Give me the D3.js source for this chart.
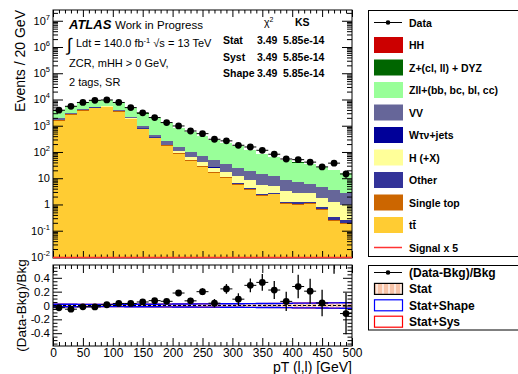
<!DOCTYPE html>
<html>
<head>
<meta charset="utf-8">
<script src="https://cdn.jsdelivr.net/npm/d3@7"></script>
<style>
  body { margin: 0; background: #fff; }
  svg { font-family: "Liberation Sans", Arial, Helvetica, sans-serif; }
</style>
</head>
<body>
<svg id="svg" width="518" height="374"></svg>
<script>
// bin low edges (GeV), 20 GeV bins
const binLow = [0, 20, 40, 60, 80, 100, 120, 140, 160, 180, 200, 220, 240, 260, 280, 300, 320, 340, 360, 380, 400, 420, 440, 460, 480];
const binWidth = 20;

// background components (events / bin)
const ttbar = [1500, 2600, 3620, 4580, 4980, 3300, 1730, 720, 328, 166, 86, 44, 26.3, 15.5, 10.3, 5.7, 3.7, 2.03, 2.4, 1.04, 0.99, 1.04, 0.64, 0.24, 0.175];
const stop = [120, 200, 280, 350, 390, 260, 140, 60, 27, 14, 7, 4, 2.2, 1.3, 0.8, 0.5, 0.3, 0.17, 0.2, 0.09, 0.08, 0.09, 0.05, 0.02, 0.015];
const other = [10, 14, 18, 22, 24, 18, 11, 6, 3.5, 2.4, 1.6, 1.2, 0.9, 0.6, 0.45, 0.35, 0.28, 0.22, 0.18, 0.14, 0.12, 0.1, 0.08, 0.07, 0.06];
const higgs = [8, 12, 16, 20, 22, 18, 12, 8, 6, 5, 14, 14, 13, 8.2, 6.2, 5.6, 4.3, 3.1, 2.3, 2.0, 1.6, 1.5, 0.97, 0.87, 0.73];
const wtaunu = [1, 1.5, 2, 2, 2, 1.5, 1, 0.6, 0.4, 0.3, 0.2, 0.15, 0.1, 0.08, 0.06, 0.05, 0.04, 0.03, 0.03, 0.02, 0.02, 0.02, 0.01, 0.01, 0.01];
const vv = [300, 300, 350, 400, 420, 400, 280, 175, 90, 70, 48, 38, 27, 23, 16.7, 13.2, 10, 8.8, 6.9, 5.2, 4.5, 3.3, 2.9, 2.3, 1.65];
const zll = [2031, 2595, 3446, 3974, 3520, 3370, 2515, 1936, 1432, 968, 661, 480, 341, 242, 176, 137, 99.6, 71.3, 54, 41.7, 32.1, 27.4, 21, 17.6, 13.5];
const zcl = [60, 87, 118, 142, 142, 112, 71, 44, 29, 19, 12.5, 9, 6.3, 4.4, 3.2, 2.5, 1.8, 1.3, 1.0, 0.77, 0.6, 0.5, 0.39, 0.32, 0.25];
const hh = [0.02, 0.02, 0.02, 0.02, 0.02, 0.02, 0.02, 0.02, 0.02, 0.02, 0.02, 0.02, 0.02, 0.02, 0.02, 0.02, 0.02, 0.02, 0.02, 0.02, 0.02, 0.02, 0.02, 0.02, 0.02];
const signal = [0.004, 0.004, 0.004, 0.004, 0.004, 0.004, 0.004, 0.004, 0.004, 0.004, 0.004, 0.004, 0.004, 0.004, 0.004, 0.004, 0.004, 0.004, 0.004, 0.004, 0.004, 0.004, 0.004, 0.004, 0.004];

// data
const data = [3900, 5500, 7700, 9300, 9600, 7700, 4900, 3100, 2050, 1320, 980, 630, 500, 305, 265, 180, 155, 116, 82, 54, 51, 41, 27, 37.5, 14.5];
// ratio error bars read from the lower pad
const ratioErr = [0.016, 0.014, 0.012, 0.011, 0.011, 0.012, 0.015, 0.019, 0.024, 0.03, 0.036, 0.043, 0.05, 0.06, 0.07, 0.085, 0.1, 0.12, 0.13, 0.14, 0.17, 0.18, 0.19, 0.29, 0.3];

// relative uncertainty bands
const statUnc = [0.012, 0.011, 0.010, 0.010, 0.010, 0.010, 0.011, 0.012, 0.013, 0.014, 0.015, 0.016, 0.017, 0.018, 0.019, 0.020, 0.021, 0.022, 0.023, 0.024, 0.026, 0.027, 0.028, 0.030, 0.032];
const shapeUnc = [0.018, 0.017, 0.016, 0.016, 0.016, 0.016, 0.017, 0.018, 0.019, 0.020, 0.021, 0.022, 0.023, 0.024, 0.025, 0.026, 0.027, 0.028, 0.029, 0.030, 0.034, 0.035, 0.036, 0.038, 0.040];
const sysUnc = [0.020, 0.019, 0.018, 0.018, 0.018, 0.018, 0.019, 0.020, 0.021, 0.022, 0.023, 0.024, 0.025, 0.026, 0.027, 0.028, 0.029, 0.030, 0.031, 0.032, 0.036, 0.037, 0.038, 0.040, 0.042];

const xTicks = [0, 50, 100, 150, 200, 250, 300, 350, 400, 450, 500];
const yExp = [-2, -1, 0, 1, 2, 3, 4, 5, 6, 7];
const rTicks = [-0.4, -0.2, 0, 0.2, 0.4];
const rTickLabels = ["0.4", "0.2", "0", "0.2", "0.4"];

const keys = ["ttbar", "stop", "other", "higgs", "wtaunu", "vv", "zll", "zcl", "hh"];
const series = { ttbar, stop, other, higgs, wtaunu, vv, zll, zcl, hh };
const colors = {
  ttbar: "#ffcc33", stop: "#cc6600", other: "#333399", higgs: "#ffff99",
  wtaunu: "#000099", vv: "#666699", zll: "#99ff99", zcl: "#006600", hh: "#cc0000"
};

const svg = d3.select("#svg");

// pads
const L = 53, R = 352;
const mainTop = 10, mainBot = 258;
const ratTop = 265, ratBot = 346;

const x = d3.scaleLinear().domain([0, 500]).range([L, R]);
const y = d3.scaleLog().domain([Math.pow(10, -2.04), Math.pow(10, 7.41)]).range([mainBot, mainTop]);
const yr = d3.scaleLinear().domain([-0.585, 0.585]).range([ratBot, ratTop]);
const yc = v => (v <= y.domain()[0] ? mainBot : Math.max(mainTop, y(v)));

// stack
const rows = binLow.map((b, i) => {
  const r = { bin: b };
  keys.forEach(k => r[k] = series[k][i]);
  return r;
});
const stacked = d3.stack().keys(keys)(rows);
const bkg = rows.map((r, i) => stacked[stacked.length - 1][i][1]);

const gStack = svg.append("g").attr("shape-rendering", "crispEdges");
stacked.forEach(layer => {
  gStack.append("g")
    .attr("fill", colors[layer.key])
    .selectAll("rect")
    .data(layer)
    .join("rect")
    .attr("x", d => x(d.data.bin))
    .attr("width", d => x(d.data.bin + binWidth) - x(d.data.bin))
    .attr("y", d => yc(d[1]))
    .attr("height", d => Math.max(0, yc(d[0]) - yc(d[1])));
});

// ---- axes helpers
function strip(g) { g.select(".domain").remove(); g.selectAll("line").attr("stroke", "#000"); }

// main pad ticks
const minorLog = [];
for (let e = -3; e <= 7; e++) {
  for (let m = 2; m <= 9; m++) {
    const v = m * Math.pow(10, e);
    if (v > y.domain()[0] && v < y.domain()[1]) minorLog.push(v);
  }
}
const majorLog = yExp.map(e => Math.pow(10, e));

svg.append("g").attr("transform", `translate(${L},0)`)
  .call(d3.axisLeft(y).tickValues(majorLog).tickSize(-10).tickFormat("")).call(strip);
svg.append("g").attr("transform", `translate(${L},0)`)
  .call(d3.axisLeft(y).tickValues(minorLog).tickSize(-5).tickFormat("")).call(strip);
svg.append("g").attr("transform", `translate(${R},0)`)
  .call(d3.axisRight(y).tickValues(majorLog).tickSize(-10).tickFormat("")).call(strip);
svg.append("g").attr("transform", `translate(${R},0)`)
  .call(d3.axisRight(y).tickValues(minorLog).tickSize(-5).tickFormat("")).call(strip);

// y labels with superscripts
const ylab = svg.append("g").attr("font-size", 11).attr("text-anchor", "end");
yExp.forEach(e => {
  const t = ylab.append("text").attr("x", L - 3).attr("y", y(Math.pow(10, e)) + 4);
  if (e === 0) t.text("1");
  else if (e === 1) t.text("10");
  else {
    t.append("tspan").text("10");
    t.append("tspan").attr("font-size", 7.5).attr("dy", -5).text(e);
  }
});

const xMinor = d3.range(0, 501, 10).filter(v => v % 50 !== 0);
svg.append("g").attr("transform", `translate(0,${mainBot})`)
  .call(d3.axisBottom(x).tickValues(xTicks).tickSize(-7).tickFormat("")).call(strip);
svg.append("g").attr("transform", `translate(0,${mainBot})`)
  .call(d3.axisBottom(x).tickValues(xMinor).tickSize(-3.5).tickFormat("")).call(strip);
svg.append("g").attr("transform", `translate(0,${mainTop})`)
  .call(d3.axisTop(x).tickValues(xTicks).tickSize(-7).tickFormat("")).call(strip);
svg.append("g").attr("transform", `translate(0,${mainTop})`)
  .call(d3.axisTop(x).tickValues(xMinor).tickSize(-3.5).tickFormat("")).call(strip);

svg.append("rect").attr("x", L).attr("y", mainTop).attr("width", R - L).attr("height", mainBot - mainTop)
  .attr("fill", "none").attr("stroke", "#000").attr("stroke-width", 1);

// signal x 5 (below range, sits on the lower edge)
const stepLine = d3.line().curve(d3.curveStepAfter);
const sigPts = binLow.map((b, i) => [x(b), yc(signal[i]) - 0.5]).concat([[x(500), yc(signal[signal.length - 1]) - 0.5]]);
svg.append("path").attr("d", stepLine(sigPts)).attr("fill", "none").attr("stroke", "#ff3333").attr("stroke-width", 1.5);

// data points
const gData = svg.append("g").attr("stroke", "#000").attr("stroke-width", 1);
binLow.forEach((b, i) => {
  const cx = x(b + binWidth / 2);
  const cy = y(data[i]);
  const err = ratioErr[i] * bkg[i];
  gData.append("line").attr("x1", x(b)).attr("x2", x(b + binWidth)).attr("y1", cy).attr("y2", cy);
  gData.append("line").attr("x1", cx).attr("x2", cx).attr("y1", y(data[i] + err)).attr("y2", y(Math.max(data[i] - err, 1e-3)));
  gData.append("circle").attr("cx", cx).attr("cy", cy).attr("r", 3.4).attr("fill", "#000").attr("stroke", "none");
});

// ---- ratio pad
const defs = svg.append("defs");
const pat = defs.append("pattern").attr("id", "statpat").attr("patternUnits", "userSpaceOnUse")
  .attr("width", 6).attr("height", 6);
pat.append("rect").attr("width", 6).attr("height", 6).attr("fill", "#f7c3a8");
pat.append("rect").attr("x", 4).attr("width", 2).attr("height", 6).attr("fill", "#fde7dc");
defs.append("clipPath").attr("id", "ratclip").append("rect")
  .attr("x", L).attr("y", ratTop).attr("width", R - L).attr("height", ratBot - ratTop);

const gr = svg.append("g").attr("clip-path", "url(#ratclip)");
const bandPts = u => binLow.map((b, i) => [b, u[i]]).concat([[500, u[u.length - 1]]]);
const area = d3.area().curve(d3.curveStepAfter).x(d => x(d[0])).y0(d => yr(-d[1])).y1(d => yr(d[1]));
gr.append("path").attr("d", area(bandPts(statUnc))).attr("fill", "url(#statpat)");
const edge = sign => d3.line().curve(d3.curveStepAfter).x(d => x(d[0])).y(d => yr(sign * d[1]));
[1, -1].forEach(s => {
  gr.append("path").attr("d", edge(s)(bandPts(sysUnc))).attr("fill", "none").attr("stroke", "#ff0000").attr("stroke-width", 1);
  gr.append("path").attr("d", edge(s)(bandPts(shapeUnc))).attr("fill", "none").attr("stroke", "#0000ff").attr("stroke-width", 1.4);
});
gr.append("line").attr("x1", L).attr("x2", R).attr("y1", yr(0)).attr("y2", yr(0))
  .attr("stroke", "#000").attr("stroke-width", 1.2).attr("stroke-dasharray", "3,2");

binLow.forEach((b, i) => {
  const r = data[i] / bkg[i] - 1;
  const cx = x(b + binWidth / 2);
  const cy = yr(r);
  gr.append("line").attr("x1", x(b)).attr("x2", x(b + binWidth)).attr("y1", cy).attr("y2", cy).attr("stroke", "#000");
  gr.append("line").attr("x1", cx).attr("x2", cx).attr("y1", yr(r - ratioErr[i])).attr("y2", yr(r + ratioErr[i])).attr("stroke", "#000").attr("stroke-width", 1.3);
  gr.append("circle").attr("cx", cx).attr("cy", cy).attr("r", 3.4).attr("fill", "#000");
});

const rMinor = d3.range(-0.55, 0.56, 0.05).map(v => +v.toFixed(2)).filter(v => Math.abs(v * 10 % 2) > 0.01);
svg.append("g").attr("transform", `translate(${L},0)`)
  .call(d3.axisLeft(yr).tickValues(rTicks).tickSize(-9).tickFormat("")).call(strip);
svg.append("g").attr("transform", `translate(${L},0)`)
  .call(d3.axisLeft(yr).tickValues(rMinor).tickSize(-4.5).tickFormat("")).call(strip);
svg.append("g").attr("transform", `translate(${R},0)`)
  .call(d3.axisRight(yr).tickValues(rTicks).tickSize(-9).tickFormat("")).call(strip);
svg.append("g").attr("transform", `translate(${R},0)`)
  .call(d3.axisRight(yr).tickValues(rMinor).tickSize(-4.5).tickFormat("")).call(strip);

// ratio y labels, ROOT-style detached minus sign
const rlab = svg.append("g").attr("font-size", 11.5).attr("text-anchor", "end");
rTicks.forEach((v, i) => {
  rlab.append("text").attr("x", L - 3).attr("y", yr(v) + 4).text(rTickLabels[i]);
  if (v < 0) rlab.append("text").attr("x", 34.5).attr("y", yr(v) + 4).text("-");
});

const gxb = svg.append("g").attr("transform", `translate(0,${ratBot})`)
  .call(d3.axisBottom(x).tickValues(xTicks).tickSize(-8).tickPadding(2));
strip(gxb);
gxb.selectAll("text").attr("font-size", 12).attr("font-family", null).attr("fill", "#000");
svg.append("g").attr("transform", `translate(0,${ratBot})`)
  .call(d3.axisBottom(x).tickValues(xMinor).tickSize(-4).tickFormat("")).call(strip);
svg.append("g").attr("transform", `translate(0,${ratTop})`)
  .call(d3.axisTop(x).tickValues(xTicks).tickSize(-8).tickFormat("")).call(strip);
svg.append("g").attr("transform", `translate(0,${ratTop})`)
  .call(d3.axisTop(x).tickValues(xMinor).tickSize(-4).tickFormat("")).call(strip);

svg.append("rect").attr("x", L).attr("y", ratTop).attr("width", R - L).attr("height", ratBot - ratTop)
  .attr("fill", "none").attr("stroke", "#000");

// ---- axis titles
svg.append("text").attr("transform", "translate(25,10) rotate(-90)").attr("text-anchor", "end")
  .attr("font-size", 14).text("Events / 20 GeV");
svg.append("text").attr("transform", `translate(26,${(ratTop + ratBot) / 2}) rotate(-90)`).attr("text-anchor", "middle")
  .attr("font-size", 13.5).text("(Data-Bkg)/Bkg");
svg.append("text").attr("x", R).attr("y", 371.5).attr("text-anchor", "end").attr("font-size", 14).text("pT (l,l) [GeV]");

// ---- labels inside main pad
svg.append("text").attr("x", 69).attr("y", 28.5).attr("font-size", 13).attr("font-weight", "bold")
  .attr("font-style", "italic").text("ATLAS");
svg.append("text").attr("x", 115).attr("y", 28.5).attr("font-size", 11.5).text("Work in Progress");
svg.append("text").attr("x", 67).attr("y", 51).attr("font-size", 18).text("∫");
const lumi = svg.append("text").attr("x", 76).attr("y", 47).attr("font-size", 11);
lumi.append("tspan").text("Ldt = 140.0 fb");
lumi.append("tspan").attr("font-size", 7.5).attr("dy", -4.5).text("-1");
lumi.append("tspan").attr("dy", 4.5).text(" √s = 13 TeV");
svg.append("text").attr("x", 69).attr("y", 67).attr("font-size", 11).text("ZCR, mHH > 0 GeV,");
svg.append("text").attr("x", 69).attr("y", 86).attr("font-size", 11).text("2 tags, SR");

// chi2 / KS table
const tbl = svg.append("g").attr("font-size", 10.5).attr("font-weight", "bold");
const chi = tbl.append("text").attr("x", 264).attr("y", 26).attr("font-weight", "normal");
chi.append("tspan").text("χ");
chi.append("tspan").attr("font-size", 7).attr("dy", -4).text("2");
tbl.append("text").attr("x", 295).attr("y", 26).text("KS");
const tblRows = ["Stat", "Syst", "Shape"];
const tblChi = ["3.49", "3.49", "3.49"];
const tblKS = ["5.85e-14", "5.85e-14", "5.85e-14"];
tblRows.forEach((r, i) => {
  const yy = 44 + i * 16.5;
  tbl.append("text").attr("x", 223).attr("y", yy).text(r);
  tbl.append("text").attr("x", 257).attr("y", yy).text(tblChi[i]);
  tbl.append("text").attr("x", 283).attr("y", yy).text(tblKS[i]);
});

// ---- main legend
const legItems = [
  { label: "Data", type: "data" },
  { label: "HH", key: "hh" },
  { label: "Z+(cl, ll) + DYZ", key: "zcl" },
  { label: "Zll+(bb, bc, bl, cc)", key: "zll" },
  { label: "VV", key: "vv" },
  { label: "Wτν+jets", key: "wtaunu" },
  { label: "H (+X)", key: "higgs" },
  { label: "Other", key: "other" },
  { label: "Single top", key: "stop" },
  { label: "tt\u0304", key: "ttbar" },
  { label: "Signal x 5", type: "line" }
];
svg.append("rect").attr("x", 368.5).attr("y", 10.5).attr("width", 160).attr("height", 246)
  .attr("fill", "#fff").attr("stroke", "#000");
const leg = svg.append("g").attr("font-size", 10.5).attr("font-weight", "bold");
legItems.forEach((it, i) => {
  const cy = 22.5 + i * 22.5;
  if (it.type === "data") {
    leg.append("line").attr("x1", 374).attr("x2", 402).attr("y1", cy).attr("y2", cy).attr("stroke", "#000");
    leg.append("circle").attr("cx", 388).attr("cy", cy).attr("r", 2.3).attr("fill", "#000");
  } else if (it.type === "line") {
    leg.append("line").attr("x1", 374).attr("x2", 402).attr("y1", cy).attr("y2", cy).attr("stroke", "#ff3333").attr("stroke-width", 1.5);
  } else {
    leg.append("rect").attr("x", 374).attr("y", cy - 8).attr("width", 29).attr("height", 16).attr("fill", colors[it.key]);
  }
  leg.append("text").attr("x", 409).attr("y", cy + 4).text(it.label);
});

// ---- ratio legend
svg.append("rect").attr("x", 368.5).attr("y", 265.5).attr("width", 160).attr("height", 64.5)
  .attr("fill", "#fff").attr("stroke", "#000");
const rleg = svg.append("g").attr("font-size", 12).attr("font-weight", "bold");
const rItems = ["(Data-Bkg)/Bkg", "Stat", "Stat+Shape", "Stat+Sys"];
rItems.forEach((lab, i) => {
  const cy = 272.5 + i * 16.4;
  if (i === 0) {
    rleg.append("line").attr("x1", 374).attr("x2", 402).attr("y1", cy).attr("y2", cy).attr("stroke", "#000");
    rleg.append("circle").attr("cx", 388).attr("cy", cy).attr("r", 2.3).attr("fill", "#000");
  } else {
    const stroke = i === 1 ? "#000" : (i === 2 ? "#0000ff" : "#ff0000");
    const fill = i === 1 ? "url(#statpat)" : "#fff";
    rleg.append("rect").attr("x", 374.5).attr("y", cy - 5.5).attr("width", 28).attr("height", 11)
      .attr("fill", fill).attr("stroke", stroke).attr("stroke-width", 1.2);
  }
  rleg.append("text").attr("x", 409).attr("y", cy + 4.5).text(lab);
});
</script>
</body>
</html>
